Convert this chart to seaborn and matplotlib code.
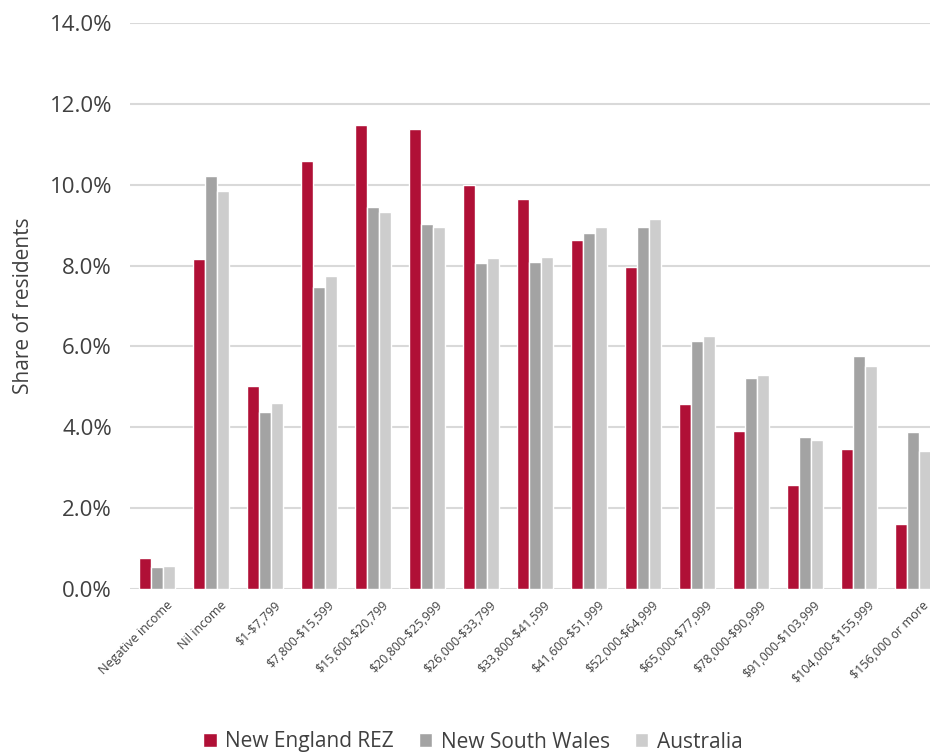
import matplotlib
matplotlib.use("Agg")
import matplotlib.pyplot as plt
import matplotlib.transforms as mtransforms
import seaborn as sns
import pandas as pd
from matplotlib.ticker import PercentFormatter

categories = ["Negative income", "Nil income", "$1-$7,799", "$7,800-$15,599",
              "$15,600-$20,799", "$20,800-$25,999", "$26,000-$33,799",
              "$33,800-$41,599", "$41,600-$51,999", "$52,000-$64,999",
              "$65,000-$77,999", "$78,000-$90,999", "$91,000-$103,999",
              "$104,000-$155,999", "$156,000 or more"]
new_england = [0.76, 8.16, 5.02, 10.58, 11.47, 11.39, 10.0, 9.65, 8.64, 7.97,
               4.58, 3.91, 2.58, 3.46, 1.62]
nsw = [0.55, 10.22, 4.38, 7.46, 9.46, 9.02, 8.06, 8.10, 8.80, 8.95,
       6.13, 5.21, 3.75, 5.77, 3.88]
australia = [0.57, 9.84, 4.60, 7.75, 9.33, 8.95, 8.19, 8.22, 8.95, 9.14,
             6.25, 5.30, 3.69, 5.52, 3.41]
series = ["New England REZ", "New South Wales", "Australia"]

df = pd.concat([
    pd.DataFrame({"bracket": categories, "share": vals, "region": name})
    for name, vals in zip(series, [new_england, nsw, australia])
])

sns.set_style("white")
plt.rcParams["font.family"] = ["Open Sans", "DejaVu Sans"]
plt.rcParams["text.parse_math"] = False
text_col = "#404040"

fig = plt.figure(figsize=(9.3, 7.54), dpi=100)
ax = fig.add_axes([130 / 930, 165 / 754, 810 / 930, 566 / 754])

sns.barplot(data=df, x="bracket", y="share", hue="region", hue_order=series,
            palette=["#B01036", "#A3A3A3", "#CDCDCD"], width=0.67,
            saturation=1, ax=ax)

ax.set_ylim(0, 14)
ax.set_xlim(-0.5, 14.5)
ax.set_yticks(range(0, 15, 2))
ax.yaxis.set_major_formatter(PercentFormatter(decimals=1))
ax.grid(axis="y", color="#D9D9D9", linewidth=1.5)
ax.set_axisbelow(True)
sns.despine(ax=ax, left=True, bottom=True)

ax.set_xlabel("")
ax.set_ylabel("Share of residents", fontsize=15, color=text_col)
ax.yaxis.set_label_coords(-96 / 810, 0.5)
ax.tick_params(axis="y", labelsize=16, colors=text_col, length=0, pad=13)
ax.tick_params(axis="x", length=0, pad=7)
ax.set_xticks(range(len(categories)))
ax.set_xticklabels(categories, rotation=45, ha="right", rotation_mode="anchor",
                   fontsize=9, color=text_col)
shift = mtransforms.ScaledTranslation(9 / 100, 0, fig.dpi_scale_trans)
for lbl in ax.get_xticklabels():
    lbl.set_transform(lbl.get_transform() + shift)

ax.legend(loc="center", bbox_to_anchor=(343 / 810, -153 / 566), ncol=3,
          frameon=False, fontsize=15, labelcolor=text_col, handlelength=0.65,
          handleheight=0.65, handletextpad=0.4, columnspacing=1.2)

fig.savefig("out.png", dpi=100)
